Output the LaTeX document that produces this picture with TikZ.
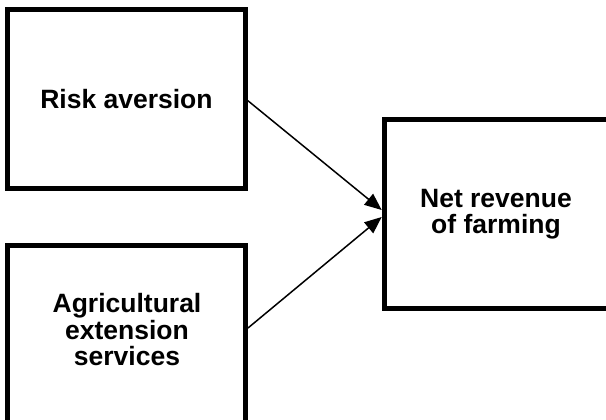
\documentclass[tikz,border=0pt]{standalone}
\usepackage{fontspec}
\setmainfont{Liberation Sans}
\usetikzlibrary{arrows.meta}
\begin{document}
\begin{tikzpicture}[x=1pt,y=-1pt,
  box/.style={draw=black,line width=5pt,rectangle,inner sep=0pt},
  lbl/.style={font=\fontsize{26.5}{26.5}\selectfont\bfseries,align=center,inner sep=0pt},
  arr/.style={line width=1.5pt,-{Triangle[length=17pt,width=14pt]}}]
\useasboundingbox (0,0) rectangle (606,420);
\clip (0,0) rectangle (606,420);
\fill[white] (0,0) rectangle (606,420);
\node[box,minimum width=238pt,minimum height=179pt] (b1) at (126.5,99.3) {};
\node[lbl] (t1) at (b1.center) {Risk aversion};
\node[box,minimum width=238pt,minimum height=193pt] (b2) at (126.5,342) {};
\node[lbl] (t2) at (127,330) {Agricultural\\extension\\services};
\node[box,minimum width=224pt,minimum height=189pt] (b3) at (496.2,214) {};
\node[lbl] (t3) at (496,214) {Net revenue\\of farming};
\coordinate (s2) at (248,328);
\coordinate (e1) at ([yshift=4pt]b3.west);
\coordinate (e2) at ([yshift=-3pt]b3.west);
\draw[arr] ([yshift=-1.5pt]b1.east) -- (e1);
\draw[arr] (s2) -- (e2);
\end{tikzpicture}
\end{document}
